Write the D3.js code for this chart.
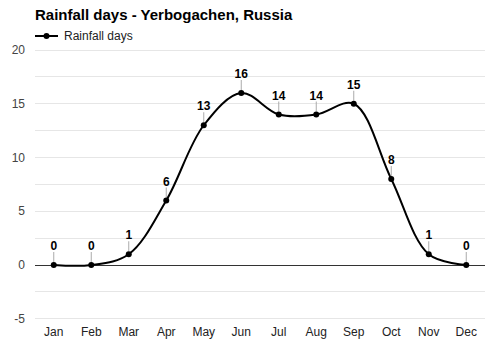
<!DOCTYPE html>
<html><head><meta charset="utf-8">
<script src="https://cdn.jsdelivr.net/npm/d3@7/dist/d3.min.js"></script>
<style>body{margin:0;background:#fff;}svg{font-family:"Liberation Sans",Arial,sans-serif;}</style>
</head><body>
<svg id="c" width="500" height="350"></svg>
<script>
const months = ["Jan","Feb","Mar","Apr","May","Jun","Jul","Aug","Sep","Oct","Nov","Dec"];
const rainfallDays = [0,0,1,6,13,16,14,14,15,8,1,0];
const yTicks = [-5,0,5,10,15,20];
const title = "Rainfall days - Yerbogachen, Russia";
const seriesName = "Rainfall days";

const svg = d3.select("#c");
const L=35, R=485, T=50, B=318.75;
const x = d3.scaleBand().domain(months).range([L,R]);
const y = d3.scaleLinear().domain([-5,20]).range([B,T]);

// gridlines
const grid = d3.range(-5,20.01,2.5);
svg.append("g").selectAll("line").data(grid).join("line")
  .attr("x1",L).attr("x2",R).attr("y1",d=>y(d)).attr("y2",d=>y(d))
  .attr("stroke",d=>d===0?"#333":"#e6e6e6").attr("stroke-width",1)
  .attr("shape-rendering","crispEdges");

// y axis labels
svg.append("g").selectAll("text").data(yTicks).join("text")
  .attr("x",25).attr("y",d=>y(d)+4).attr("text-anchor","end")
  .attr("font-size",12).attr("fill","#444").text(d=>d);

// x axis labels
svg.append("g").selectAll("text").data(months).join("text")
  .attr("x",d=>x(d)+x.bandwidth()/2).attr("y",336).attr("text-anchor","middle")
  .attr("font-size",12).attr("fill","#222").text(d=>d);

const pts = months.map((m,i)=>({m,v:rainfallDays[i]}));
const line = d3.line().x(d=>x(d.m)+x.bandwidth()/2).y(d=>y(d.v)).curve(d3.curveCatmullRom.alpha(0.5));
svg.append("path").datum(pts).attr("d",line).attr("fill","none").attr("stroke","#000").attr("stroke-width",2);

// label ticks
svg.append("g").selectAll("line").data(pts).join("line")
  .attr("x1",d=>x(d.m)+x.bandwidth()/2).attr("x2",d=>x(d.m)+x.bandwidth()/2)
  .attr("y1",d=>y(d.v)-3).attr("y2",d=>y(d.v)-13)
  .attr("stroke","#aaa").attr("stroke-width",1);

svg.append("g").selectAll("circle").data(pts).join("circle")
  .attr("cx",d=>x(d.m)+x.bandwidth()/2).attr("cy",d=>y(d.v)).attr("r",3).attr("fill","#000");

svg.append("g").selectAll("text").data(pts).join("text")
  .attr("x",d=>x(d.m)+x.bandwidth()/2).attr("y",d=>y(d.v)-15).attr("text-anchor","middle")
  .attr("font-size",12).attr("font-weight","bold").attr("fill","#000").text(d=>d.v);

// title
svg.append("text").attr("x",35).attr("y",20).attr("font-size",15).attr("font-weight","bold").attr("fill","#000").text(title);

// legend
svg.append("line").attr("x1",35).attr("x2",58).attr("y1",36).attr("y2",36).attr("stroke","#000").attr("stroke-width",2);
svg.append("circle").attr("cx",46.5).attr("cy",36).attr("r",3).attr("fill","#000");
svg.append("text").attr("x",64).attr("y",40).attr("font-size",12).attr("fill","#222").text(seriesName);
</script>
</body></html>
